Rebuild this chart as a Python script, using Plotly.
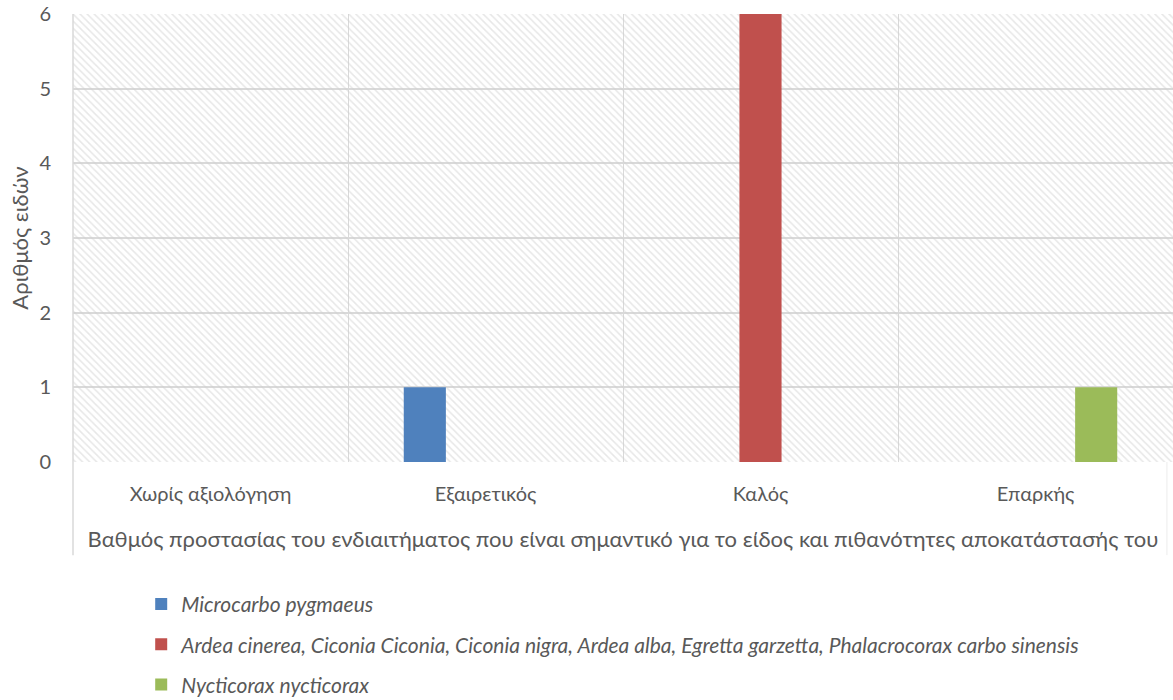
import plotly.graph_objects as go

# Habitat protection grade categories and number of species per group
categories = ["Χωρίς αξιολόγηση", "Εξαιρετικός", "Καλός", "Επαρκής"]
series_names = [
    "Microcarbo pygmaeus",
    "Ardea cinerea, Ciconia Ciconia, Ciconia nigra, Ardea alba, Egretta garzetta, Phalacrocorax carbo sinensis",
    "Nycticorax nycticorax",
]
microcarbo = [0, 1, 0, 0]
ardea_group = [0, 0, 6, 0]
nycticorax = [0, 0, 0, 1]
y_ticks = [0, 1, 2, 3, 4, 5, 6]

series_values = [microcarbo, ardea_group, nycticorax]
series_colors = ["#4F81BD", "#C0504D", "#9BBB59"]

FONT = "Lato, 'Open Sans', sans-serif"
TEXT = "#595959"
GRID = "#d9d9d9"

fig = go.Figure()

# Hatched plot background: one full-width tile per category, drawn under the data
fig.add_trace(go.Bar(
    x=categories,
    y=[max(y_ticks)] * len(categories),
    width=1,
    marker=dict(
        color="rgba(0,0,0,0)",
        line=dict(width=0),
        pattern=dict(shape="\\", fgcolor="#cfcfcf", bgcolor="rgba(0,0,0,0)",
                     size=5, solidity=0.3),
    ),
    showlegend=False,
    hoverinfo="skip",
    xaxis="x", yaxis="y",
))

for i, (name, vals, col) in enumerate(zip(series_names, series_values, series_colors)):
    fig.add_trace(go.Bar(
        x=categories, y=vals, name=name,
        marker=dict(color=col, line=dict(width=0)),
        legendgroup=f"g{i}",
        xaxis="x2", yaxis="y2",
    ))

fig.update_layout(
    width=1173, height=700,
    margin=dict(l=73, r=0, t=14, b=238, autoexpand=False),
    paper_bgcolor="white", plot_bgcolor="white",
    font=dict(family=FONT, color=TEXT, size=18),
    barmode="group", bargap=0.338, bargroupgap=0.306,
    xaxis=dict(
        type="category", categoryarray=categories, range=[-0.5, 3.5],
        tickson="boundaries", showgrid=True, gridcolor=GRID, gridwidth=1,
        ticks="", showline=False, zeroline=False,
        tickfont=dict(size=20, color=TEXT), ticklabelstandoff=18,
        title=dict(text="Βαθμός προστασίας του ενδιαιτήματος που είναι σημαντικό για το είδος και πιθανότητες αποκατάστασής του",
                   font=dict(size=22, color=TEXT), standoff=27),
    ),
    yaxis=dict(
        range=[0, max(y_ticks)], tickvals=y_ticks,
        showgrid=True, gridcolor=GRID, gridwidth=1.5,
        zeroline=False, showline=False, ticks="",
        tickfont=dict(size=20, color=TEXT), ticklabelstandoff=21,
        title=dict(text="Αριθμός ειδών", font=dict(size=22, color=TEXT), standoff=4),
    ),
    xaxis2=dict(type="category", categoryarray=categories, range=[-0.5, 3.5],
                overlaying="x", visible=False),
    yaxis2=dict(range=[0, max(y_ticks)], overlaying="y", visible=False),
    legend=dict(
        orientation="v", x=0.062, xanchor="left", y=-0.272, yanchor="top",
        font=dict(size=21, color=TEXT, style="italic"),
        tracegroupgap=10, itemwidth=30, bgcolor="rgba(0,0,0,0)",
    ),
    shapes=[
        dict(type="line", xref="paper", yref="paper", x0=0, x1=0, y0=1, y1=-0.208,
             line=dict(color=GRID, width=1.5)),
        dict(type="line", xref="paper", yref="paper", x0=0.9945, x1=0.9945, y0=0, y1=-0.208,
             line=dict(color="#ececec", width=1)),
    ],
)

fig.write_html("out.html")
